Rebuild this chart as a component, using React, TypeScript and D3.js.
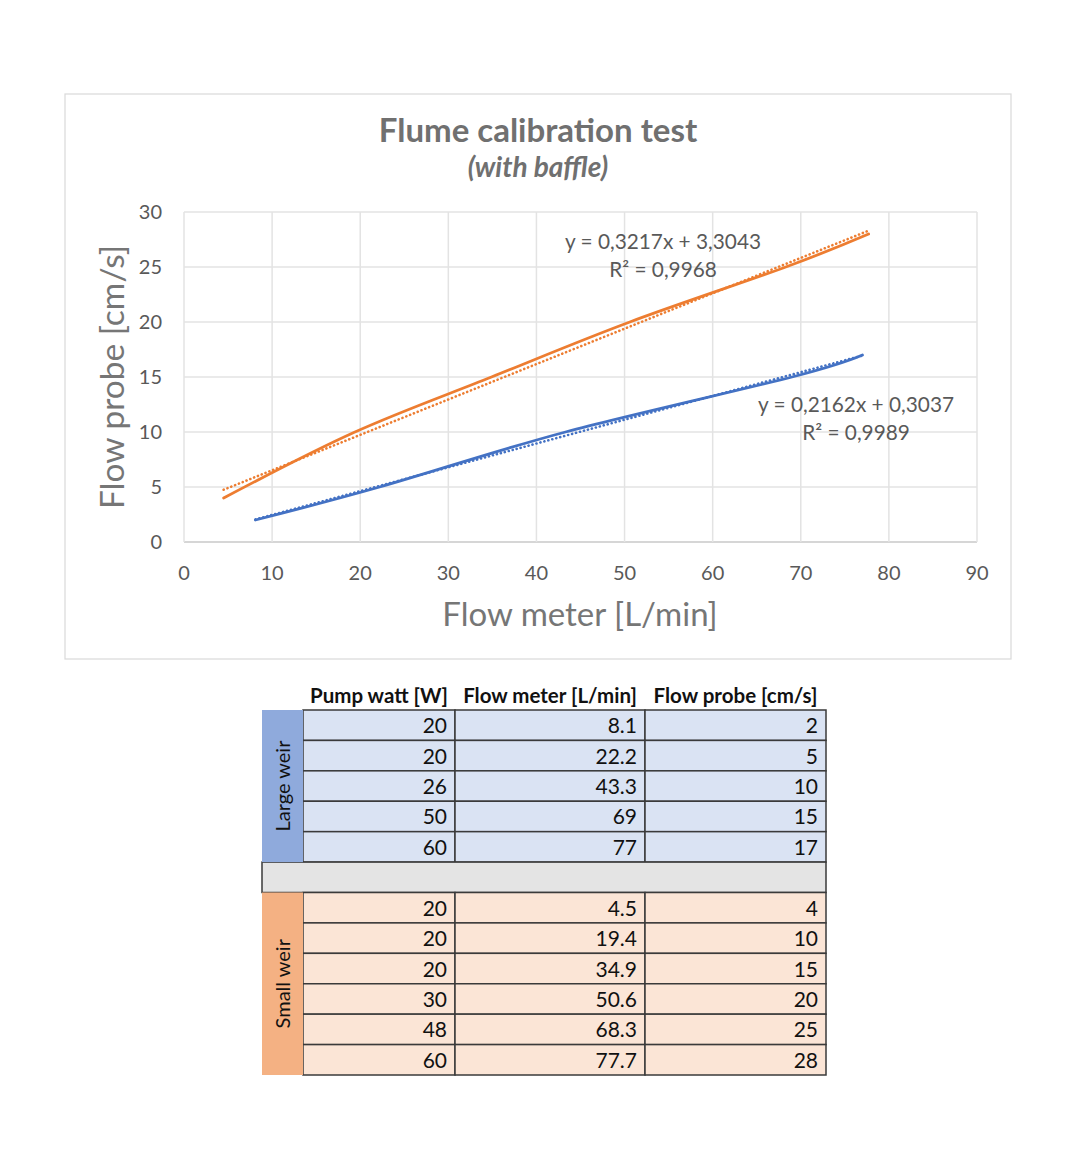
import React from 'react';
import * as d3 from 'd3';

// chart data
const largePump = [20, 20, 26, 50, 60];
const largeMeter = [8.1, 22.2, 43.3, 69, 77];
const largeProbe = [2, 5, 10, 15, 17];

const smallPump = [20, 20, 20, 30, 48, 60];
const smallMeter = [4.5, 19.4, 34.9, 50.6, 68.3, 77.7];
const smallProbe = [4, 10, 15, 20, 25, 28];

const xTicks = [0, 10, 20, 30, 40, 50, 60, 70, 80, 90];
const yTicks = [0, 5, 10, 15, 20, 25, 30];
const headers = ['Pump watt [W]', 'Flow meter [L/min]', 'Flow probe [cm/s]'];
const groupNames = ['Large weir', 'Small weir'];

const FONT = 'Lato, "Open Sans", sans-serif';

const dims = {
  boxX: 65,
  boxY: 94,
  boxW: 946,
  boxH: 565,
  plotLeft: 184,
  plotRight: 977,
  plotTop: 212,
  plotBottom: 542,
};

const fmt = (v: number) => v.toFixed(4).replace('.', ',');

const regression = (xs: number[], ys: number[]) => {
  const mx = d3.mean(xs) as number;
  const my = d3.mean(ys) as number;
  const sxy = d3.sum(xs, (x, i) => (x - mx) * (ys[i] - my));
  const sxx = d3.sum(xs, (x) => (x - mx) ** 2);
  const syy = d3.sum(ys, (y) => (y - my) ** 2);
  const m = sxy / sxx;
  const b = my - m * mx;
  return { m, b, r2: (sxy * sxy) / (sxx * syy) };
};

const series = [
  { xs: largeMeter, ys: largeProbe, color: '#4472c4', labelX: 856, labelY: 405 },
  { xs: smallMeter, ys: smallProbe, color: '#ed7d31', labelX: 663, labelY: 242 },
];

const App = () => {
  const xScale = d3.scaleLinear().domain([0, 90]).range([dims.plotLeft, dims.plotRight]);
  const yScale = d3.scaleLinear().domain([0, 30]).range([dims.plotBottom, dims.plotTop]);

  const smooth = d3
    .line<[number, number]>()
    .x((d) => xScale(d[0]))
    .y((d) => yScale(d[1]))
    .curve(d3.curveCardinal.tension(0));

  // table layout
  const colEdges = [262, 303, 455, 645, 826];
  const rowsAll: { group: number; vals: number[] }[] = [
    ...largePump.map((p, i) => ({ group: 0, vals: [p, largeMeter[i], largeProbe[i]] })),
    { group: -1, vals: [] },
    ...smallPump.map((p, i) => ({ group: 1, vals: [p, smallMeter[i], smallProbe[i]] })),
  ];
  const rowScale = d3
    .scaleBand<number>()
    .domain(d3.range(rowsAll.length))
    .range([710, 1075]);
  const rh = rowScale.bandwidth();
  const rowFill = ['#dae3f3', '#fbe5d6'];
  const labelFill = ['#8faadc', '#f4b183'];

  return (
    <svg
      width={1080}
      height={1173}
      style={{ position: 'absolute', left: 0, top: 0, background: '#fff' }}
      fontFamily={FONT}
    >
      <rect
        x={dims.boxX}
        y={dims.boxY}
        width={dims.boxW}
        height={dims.boxH}
        fill="#fff"
        stroke="#d9d9d9"
        strokeWidth={1.2}
      />
      <text x={538} y={142} textAnchor="middle" fontSize={33} fontWeight={700} fill="#707070">
        Flume calibration test
      </text>
      <text
        x={538}
        y={177}
        textAnchor="middle"
        fontSize={28}
        fontWeight={700}
        fontStyle="italic"
        fill="#707070"
      >
        (with baffle)
      </text>

      {/* gridlines */}
      {yTicks.map((t) => (
        <line
          key={'gy' + t}
          x1={dims.plotLeft}
          x2={dims.plotRight}
          y1={yScale(t)}
          y2={yScale(t)}
          stroke={t === 0 ? '#c8c8c8' : '#e3e3e3'}
          strokeWidth={1.5}
        />
      ))}
      {xTicks.map((t) => (
        <line
          key={'gx' + t}
          x1={xScale(t)}
          x2={xScale(t)}
          y1={dims.plotTop}
          y2={dims.plotBottom}
          stroke="#e3e3e3"
          strokeWidth={1.5}
        />
      ))}

      {/* tick labels */}
      {yTicks.map((t) => (
        <text
          key={'ty' + t}
          x={162}
          y={yScale(t) + 7}
          textAnchor="end"
          fontSize={20}
          fill="#595959"
        >
          {t}
        </text>
      ))}
      {xTicks.map((t) => (
        <text
          key={'tx' + t}
          x={xScale(t)}
          y={580}
          textAnchor="middle"
          fontSize={20}
          fill="#595959"
        >
          {t}
        </text>
      ))}

      <text x={580} y={626} textAnchor="middle" fontSize={33} fill="#767676">
        Flow meter [L/min]
      </text>
      <text
        transform="translate(124,377) rotate(-90)"
        textAnchor="middle"
        fontSize={33.5}
        fill="#767676"
      >
        Flow probe [cm/s]
      </text>

      {/* series + trendlines */}
      {series.map((s, si) => {
        const pts = s.xs.map((x, i) => [x, s.ys[i]] as [number, number]);
        const reg = regression(s.xs, s.ys);
        const x0 = d3.min(s.xs) as number;
        const x1 = d3.max(s.xs) as number;
        return (
          <g key={'s' + si}>
            <path d={smooth(pts) ?? ''} fill="none" stroke={s.color} strokeWidth={2.8} strokeLinecap="round" />
            <line
              x1={xScale(x0)}
              y1={yScale(reg.m * x0 + reg.b)}
              x2={xScale(x1)}
              y2={yScale(reg.m * x1 + reg.b)}
              stroke={s.color}
              strokeWidth={2.6}
              strokeDasharray="0.1 4"
              strokeLinecap="round"
            />
            <text x={s.labelX} y={s.labelY + 7} textAnchor="middle" fontSize={20.8} fill="#595959">
              {`y = ${fmt(reg.m)}x + ${fmt(reg.b)}`}
            </text>
            <text x={s.labelX} y={s.labelY + 35} textAnchor="middle" fontSize={20.8} fill="#595959">
              {`R² = ${fmt(reg.r2)}`}
            </text>
          </g>
        );
      })}

      {/* table header */}
      {headers.map((h, i) => (
        <text
          key={'h' + i}
          x={(colEdges[i + 1] + colEdges[i + 2]) / 2}
          y={703}
          textAnchor="middle"
          fontSize={20.5}
          fontWeight={700}
          fill="#111"
        >
          {h}
        </text>
      ))}

      {/* table rows */}
      {rowsAll.map((r, ri) => {
        const y = rowScale(ri) as number;
        if (r.group < 0) {
          return (
            <rect
              key={'r' + ri}
              x={colEdges[0]}
              y={y}
              width={colEdges[4] - colEdges[0]}
              height={rh}
              fill="#e4e4e4"
              stroke="#3a3a3a"
              strokeWidth={1.5}
            />
          );
        }
        return (
          <g key={'r' + ri}>
            {r.vals.map((v, ci) => (
              <g key={'c' + ci}>
                <rect
                  x={colEdges[ci + 1]}
                  y={y}
                  width={colEdges[ci + 2] - colEdges[ci + 1]}
                  height={rh}
                  fill={rowFill[r.group]}
                  stroke="#3a3a3a"
                  strokeWidth={1.5}
                />
                <text
                  x={colEdges[ci + 2] - 8}
                  y={y + rh / 2 + 8}
                  textAnchor="end"
                  fontSize={21}
                  fill="#111"
                >
                  {v}
                </text>
              </g>
            ))}
          </g>
        );
      })}

      {/* group label cells */}
      {groupNames.map((g, gi) => {
        const idx = rowsAll.map((r, i) => (r.group === gi ? i : -1)).filter((i) => i >= 0);
        const top = rowScale(idx[0]) as number;
        const bottom = (rowScale(idx[idx.length - 1]) as number) + rh;
        const cx = (colEdges[0] + colEdges[1]) / 2;
        const cy = (top + bottom) / 2;
        return (
          <g key={'g' + gi}>
            <rect
              x={colEdges[0]}
              y={top}
              width={colEdges[1] - colEdges[0]}
              height={bottom - top}
              fill={labelFill[gi]}
            />
            <text
              transform={`translate(${cx + 7},${cy}) rotate(-90)`}
              textAnchor="middle"
              fontSize={20}
              fill="#111"
            >
              {g}
            </text>
          </g>
        );
      })}
    </svg>
  );
};

export default App;
